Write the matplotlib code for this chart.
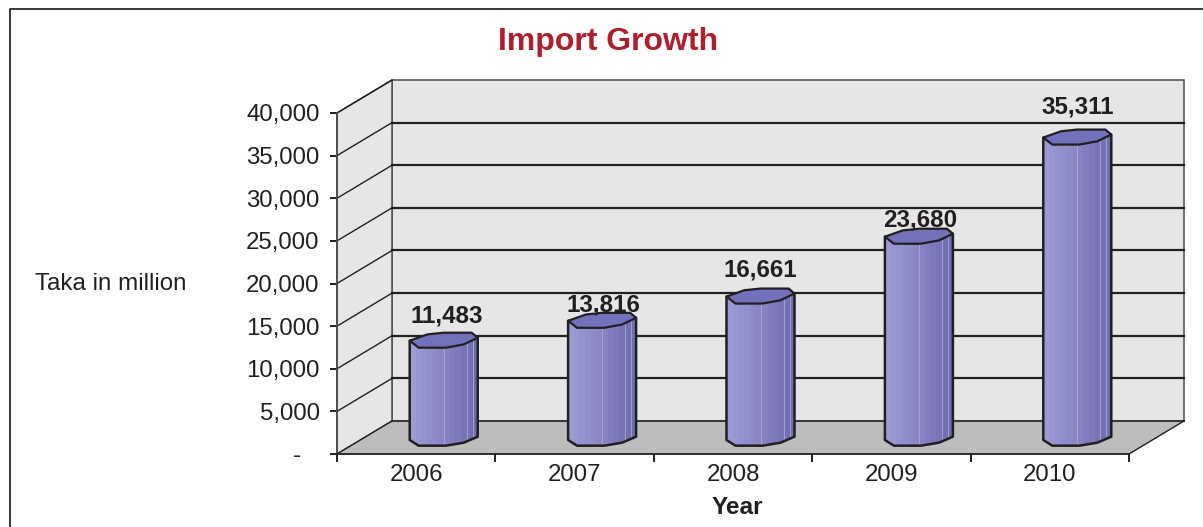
import matplotlib
matplotlib.use("Agg")
import matplotlib.pyplot as plt
import numpy as np
from matplotlib.colors import LinearSegmentedColormap
from matplotlib.patches import Polygon

plt.rcParams["font.family"] = ["Liberation Sans", "DejaVu Sans"]

# Chart content
years = ["2006", "2007", "2008", "2009", "2010"]
imports = [11483, 13816, 16661, 23680, 35311]
y_ticks = [0, 5000, 10000, 15000, 20000, 25000, 30000, 35000, 40000]

# Nudges for the value labels, in pixels from the centre of each column top
label_lift = [23.6, 14.7, 25.5, 15.6, 29.5]
label_shift = [3, 1.5, 0, 1.5, 0]

INK = "#231f20"
W, H = 1203, 527
LEFT, RIGHT, BOTTOM, TOP = 337, 1129, 454, 113
DEPTH_X, DEPTH_Y = 55, 33

fig = plt.figure(figsize=(W / 100, H / 100), dpi=100, facecolor="white")
ax = fig.add_axes([LEFT / W, 1 - BOTTOM / H, (RIGHT - LEFT) / W, (BOTTOM - TOP) / H])
ax.patch.set_visible(False)

# Outer frame: only the top and left edges fall inside the canvas
fig.add_artist(plt.Line2D([9.5 / W, 9.5 / W, 1], [0, 1 - 8.5 / H, 1 - 8.5 / H],
                          transform=fig.transFigure, color="#2a2a2a", lw=1.3))

XMAX, YMAX = len(years), y_ticks[-1]
px_x = XMAX / (RIGHT - LEFT)
px_y = YMAX / (BOTTOM - TOP)


def shifted(x, y, dx=0.0, dy=0.0):
    """Data position moved by a pixel offset (dy measured upward)."""
    return (x + dx * px_x, y + dy * px_y)


# Walls and floor of the 3-D box
back = [shifted(0, 0, DEPTH_X, DEPTH_Y), shifted(XMAX, 0, DEPTH_X, DEPTH_Y),
        shifted(XMAX, YMAX, DEPTH_X, DEPTH_Y), shifted(0, YMAX, DEPTH_X, DEPTH_Y)]
side = [(0, 0), shifted(0, 0, DEPTH_X, DEPTH_Y), shifted(0, YMAX, DEPTH_X, DEPTH_Y), (0, YMAX)]
floor = [(0, 0), (XMAX, 0), shifted(XMAX, 0, DEPTH_X, DEPTH_Y), shifted(0, 0, DEPTH_X, DEPTH_Y)]

ax.add_patch(Polygon(back, fc="#e6e6e6", ec="#4d4d4d", lw=1.1, clip_on=False, zorder=1))
ax.add_patch(Polygon(side, fc="#e6e6e6", ec="#4d4d4d", lw=1.1, clip_on=False, zorder=1))

for v in y_ticks[1:]:
    p0 = shifted(0, v, DEPTH_X, DEPTH_Y)
    p1 = shifted(XMAX, v, DEPTH_X, DEPTH_Y)
    if v < YMAX:
        ax.plot([p0[0], p1[0]], [p0[1], p1[1]], color=INK, lw=1.6, clip_on=False, zorder=2)
    ax.plot([0, p0[0]], [v, p0[1]], color=INK, lw=1.0, clip_on=False, zorder=2)

ax.add_patch(Polygon(floor, fc="#bdbdbd", ec="none", clip_on=False, zorder=2))
for a, b, col, lw in [(floor[3], floor[2], "#3a3a3a", 1.5),
                      (floor[0], floor[3], INK, 1.0),
                      (floor[1], floor[2], INK, 1.0)]:
    ax.plot([a[0], b[0]], [a[1], b[1]], color=col, lw=lw, clip_on=False, zorder=3)

# Outline of a column, in pixels from the centre of its base / top (y upward)
top_rim = np.array([(-34, -1.1), (-16.3, 5.2), (0, 6.9), (28, 6.9), (34, 1.9),
                    (20, -4.8), (2, -8.1), (-25, -8.1)])
foot_rim = np.array([(-34, -2.5), (-25, -8.2), (2, -8.2), (20, -5.2), (34, 0.8)])
highlights = [0, 23, 29]
shade = LinearSegmentedColormap.from_list(
    "column", ["#9c9cd4", "#9090cc", "#8a86c4", "#7c78ba", "#6e6eb2"])
ramp = np.linspace(0, 1, 12).reshape(1, -1)

for i, value in enumerate(imports):
    cx = i + 0.5
    tops = [shifted(cx, value, DEPTH_X / 2 + dx, DEPTH_Y / 2 + dy) for dx, dy in top_rim]
    feet = [shifted(cx, 0, DEPTH_X / 2 + dx, DEPTH_Y / 2 + dy) for dx, dy in foot_rim]
    body = [tops[0]] + feet + [tops[4]]

    outline = Polygon(body, fc="none", ec=INK, lw=1.8, joinstyle="round", zorder=6)
    ax.add_patch(outline)
    img = ax.imshow(ramp, cmap=shade, aspect="auto", zorder=5,
                    extent=(feet[0][0], feet[-1][0], 0, value + 6000))
    img.set_clip_path(outline)
    for h in highlights:
        hx = shifted(cx, 0, DEPTH_X / 2 + h)[0]
        ln, = ax.plot([hx, hx], [0, value + 6000], color="#b4b4dc", lw=0.7, alpha=0.7, zorder=5.5)
        ln.set_clip_path(outline)
    ax.add_patch(Polygon(tops, fc="#7272bc", ec=INK, lw=1.6, joinstyle="round", zorder=7))

    ax.annotate(f"{value:,}", xy=shifted(cx, value, DEPTH_X / 2 + label_shift[i],
                                         DEPTH_Y / 2 + label_lift[i]),
                ha="center", va="center", fontsize=17.4, fontweight="bold",
                color=INK, zorder=9, annotation_clip=False)

ax.set_xlim(0, XMAX)
ax.set_ylim(0, YMAX)

# Axes, ticks and labels
for name in ("top", "right"):
    ax.spines[name].set_visible(False)
ax.spines["left"].set(color="#4d4d4d", linewidth=1.3, zorder=4)
ax.spines["bottom"].set(color=INK, linewidth=1.3, zorder=4)

ax.set_yticks(y_ticks)
ax.set_yticklabels([f"{v:,}" if v else "-\u2007\u2009" for v in y_ticks])
ax.set_xticks(np.arange(XMAX + 1))
ax.set_xticklabels([])
ax.set_xticks(np.arange(XMAX) + 0.5, labels=years, minor=True)
ax.tick_params(axis="y", length=5, width=1.4, color=INK, pad=7.5, labelsize=17.3, labelcolor=INK)
ax.tick_params(axis="x", which="major", length=5.5, width=1.4, color=INK)
ax.tick_params(axis="x", which="minor", length=0, pad=7.5, labelsize=17.3, labelcolor=INK)


def label_at(px, py, text, **kw):
    fig.text(px / W, 1 - py / H, text, ha="center", va="center", **kw)


label_at(608, 42, "Import Growth", fontsize=23, fontweight="bold", color="#ac1f2d")
label_at(110.5, 284.5, "Taka in million", fontsize=17.4, color=INK)
label_at(737.5, 508, "Year", fontsize=17.6, fontweight="bold", color=INK)

fig.savefig("out.png", dpi=100)
